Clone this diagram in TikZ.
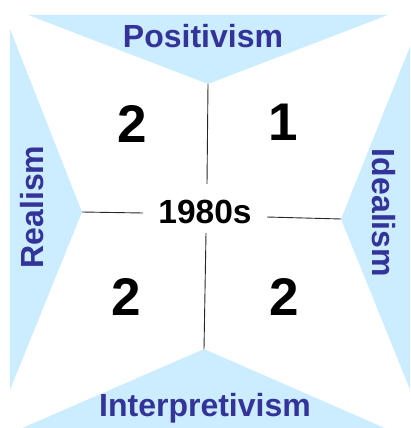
\documentclass[tikz,border=0pt]{standalone}
\usepackage{fontspec}
\setmainfont{Liberation Sans}
\definecolor{fillblue}{RGB}{204,236,255}
\definecolor{textblue}{RGB}{51,51,153}
\begin{document}
\begin{tikzpicture}[x=1pt,y=-1pt,
  panel/.style={fill=fillblue,draw=none},
  philo/.style={text=textblue,font=\fontsize{32}{38}\selectfont\bfseries,inner sep=0pt,anchor=base},
  digitnum/.style={font=\fontsize{53}{60}\selectfont\bfseries,inner sep=0pt,anchor=base},
  divider/.style={draw=black!85,line width=0.9pt}]
\useasboundingbox (0,0) rectangle (410,428);
\clip (0,0) rectangle (410,428);
% apexes
\coordinate (T) at (208,84);
\coordinate (L) at (82,212);
\coordinate (R) at (341,219);
\coordinate (B) at (204,349);
% triangles
\fill[panel] (28,15) -- (388,15) -- (T) -- cycle;
\fill[panel] (10,29) -- (L) -- (10,390) -- cycle;
\fill[panel] (411,44) -- (R) -- (411,392) -- cycle;
\fill[panel] (20,429) -- (B) -- (387,429) -- cycle;
% labels
\node[philo] (pos) at (203,48) {Positivism};
\node[philo] (int) at (205,416) {Interpretivism};
\node[philo,rotate=90] (rea) at (43,207) {Realism};
\node[philo,rotate=-90] (ide) at (372,213) {Idealism};
% centre
\node[font=\fontsize{33.5}{40}\selectfont\bfseries,inner sep=0pt,anchor=base] (c) at (205,223) {1980s};
\coordinate (te) at (207,184);
\coordinate (be) at (206,233);
\coordinate (le) at (143,213);
\coordinate (re) at (267,217);
\draw[divider] (T) -- (te);
\draw[divider] (be) -- (B);
\draw[divider] (L) -- (le);
\draw[divider] (re) -- (R);
% numbers
\node[digitnum] (q1) at (132,142) {2};
\node[digitnum] (q2) at (283,140) {1};
\node[digitnum] (q3) at (126,315) {2};
\node[digitnum] (q4) at (284,315) {2};
\end{tikzpicture}
\end{document}
